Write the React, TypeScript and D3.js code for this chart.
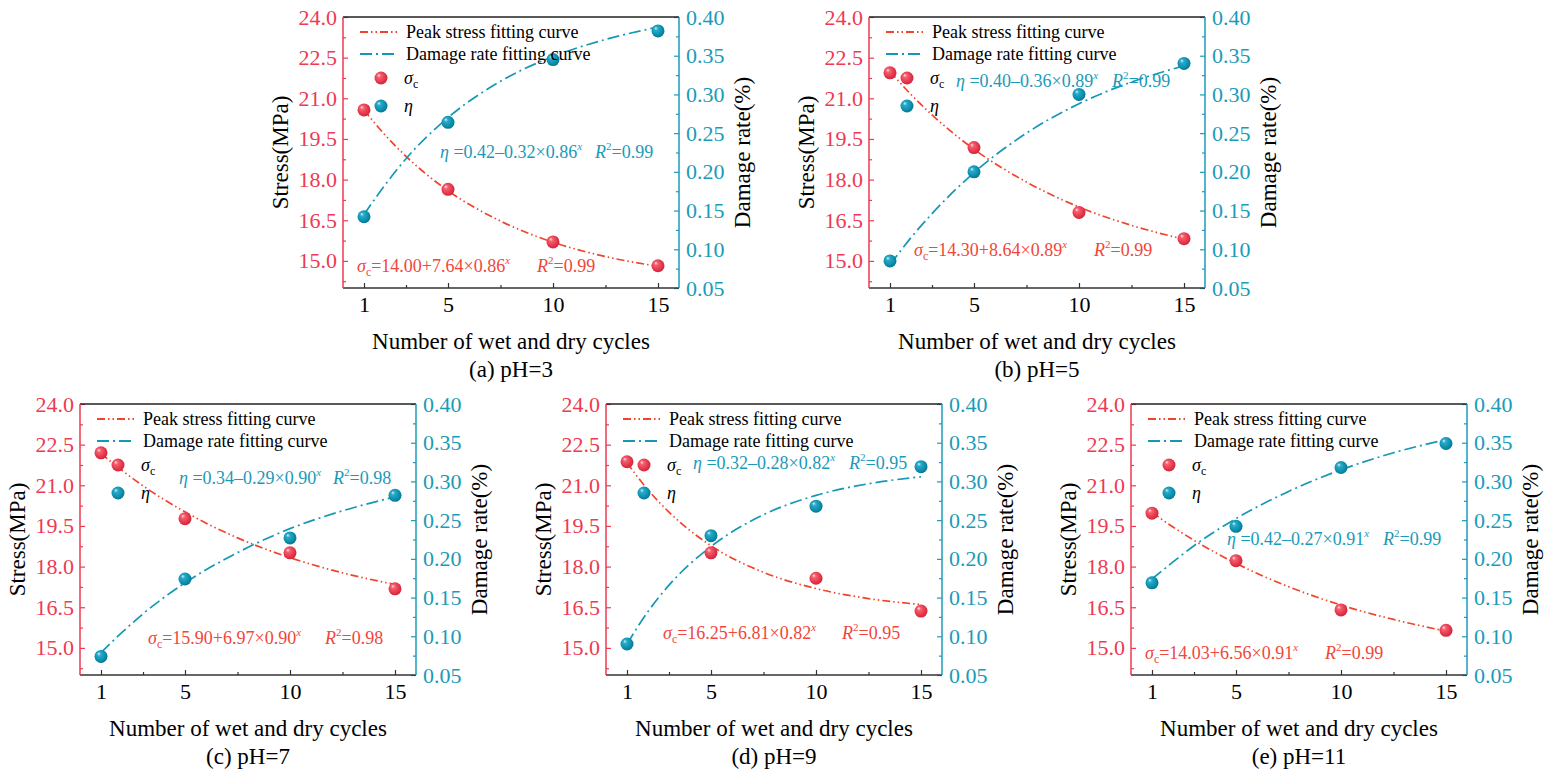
import React, { useEffect, useRef } from 'react';
import * as d3 from 'd3';

// x values of the measurements (number of wet and dry cycles)
const cycles = [1, 5, 10, 15];
const fitCycles = [1, 2, 3, 5, 7.5, 10, 12.5, 15];

const panelLabels = ['(a) pH=3', '(b) pH=5', '(c) pH=7', '(d) pH=9', '(e) pH=11'];

// peak stress (MPa)
const stressPH3 = [20.57, 17.64, 15.7, 14.82];
const stressPH5 = [21.94, 19.18, 16.79, 15.82];
const stressPH7 = [22.2, 19.77, 18.51, 17.18];
const stressPH9 = [21.87, 18.51, 17.57, 16.36];
const stressPH11 = [19.97, 18.22, 16.4, 15.65];

// damage rate (%)
const damagePH3 = [0.142, 0.264, 0.345, 0.382];
const damagePH5 = [0.085, 0.2, 0.3, 0.34];
const damagePH7 = [0.074, 0.174, 0.227, 0.282];
const damagePH9 = [0.09, 0.23, 0.268, 0.319];
const damagePH11 = [0.169, 0.242, 0.318, 0.349];

// fitting curves, read at fitCycles
const stressFitPH3 = [20.57, 19.65, 18.86, 17.59, 16.47, 15.69, 15.16, 14.8];
const stressFitPH5 = [21.99, 21.14, 20.39, 19.12, 17.91, 16.99, 16.31, 15.8];
const stressFitPH7 = [22.17, 21.55, 20.98, 20.02, 19.06, 18.33, 17.77, 17.34];
const stressFitPH9 = [21.83, 20.83, 20.01, 18.77, 17.79, 17.19, 16.82, 16.6];
const stressFitPH11 = [20.0, 19.46, 18.97, 18.12, 17.26, 16.58, 16.05, 15.62];

const damageFitPH3 = [0.145, 0.183, 0.217, 0.27, 0.317, 0.349, 0.371, 0.387];
const damageFitPH5 = [0.08, 0.115, 0.146, 0.199, 0.25, 0.288, 0.316, 0.337];
const damageFitPH7 = [0.079, 0.105, 0.129, 0.169, 0.208, 0.239, 0.262, 0.28];
const damageFitPH9 = [0.09, 0.132, 0.166, 0.216, 0.257, 0.282, 0.297, 0.306];
const damageFitPH11 = [0.174, 0.196, 0.217, 0.252, 0.287, 0.315, 0.337, 0.354];

// fitted equations shown in each panel
const sigmaEquations = ['14.00+7.64×0.86', '14.30+8.64×0.89', '15.90+6.97×0.90', '16.25+6.81×0.82', '14.03+6.56×0.91'];
const etaEquations = ['0.42–0.32×0.86', '0.40–0.36×0.89', '0.34–0.29×0.90', '0.32–0.28×0.82', '0.42–0.27×0.91'];
const sigmaR2 = ['0.99', '0.99', '0.98', '0.95', '0.99'];
const etaR2 = ['0.99', '0.99', '0.98', '0.95', '0.99'];

// axis ticks
const stressTicks = [15, 16.5, 18, 19.5, 21, 22.5, 24];
const stressMinorTicks = [14.25, 15.75, 17.25, 18.75, 20.25, 21.75, 23.25];
const damageTicks = [0.05, 0.1, 0.15, 0.2, 0.25, 0.3, 0.35, 0.4];
const damageMinorTicks = [0.075, 0.125, 0.175, 0.225, 0.275, 0.325, 0.375];
const cycleTicks = [1, 5, 10, 15];
const cycleMinorTicks = [3, 7.5, 12.5];

const stressSeries = [stressPH3, stressPH5, stressPH7, stressPH9, stressPH11];
const damageSeries = [damagePH3, damagePH5, damagePH7, damagePH9, damagePH11];
const stressFits = [stressFitPH3, stressFitPH5, stressFitPH7, stressFitPH9, stressFitPH11];
const damageFits = [damageFitPH3, damageFitPH5, damageFitPH7, damageFitPH9, damageFitPH11];

// layout
const origins: [number, number][] = [[343, 17], [869, 17], [80, 404], [606, 404], [1131, 404]];
const etaEqPos: [number, number, number][] = [[97, 141, 252], [87, 70, 243], [99, 80, 253], [87, 65, 243], [96, 141, 252]];
const sigmaEqPos: [number, number, number][] = [[14, 255, 194], [45, 239, 225], [68, 240, 245], [57, 235, 236], [14, 255, 194]];

const W = 336;
const H = 271;
const FONT = '"Liberation Serif", "DejaVu Serif", serif';
const stressColor = '#ee3a52';
const damageColor = '#1a9bb8';
const stressLine = '#f0442c';
const damageLine = '#1598b5';
const stressText = '#f0473a';
const damageText = '#1b9ab8';
const stressDash = '8 3 1.5 3 1.5 3';
const damageDash = '12 4 2 4';

type G = d3.Selection<SVGGElement, unknown, null, undefined>;

function addEquation(g: G, x: number, y: number, symbol: 'sigma' | 'eta', body: string, r2x: number, r2: string, color: string) {
  const t = g.append('text').attr('x', x).attr('y', y).attr('fill', color).attr('font-size', 18).attr('font-family', FONT);
  if (symbol === 'sigma') {
    t.append('tspan').attr('font-style', 'italic').text('σ');
    t.append('tspan').attr('font-size', 12).attr('dy', 4).text('c');
    t.append('tspan').attr('dy', -4).text('=' + body);
  } else {
    t.append('tspan').attr('font-style', 'italic').text('η');
    t.append('tspan').text(' =' + body);
  }
  t.append('tspan').attr('font-style', 'italic').attr('font-size', 11).attr('dy', -8).text('x');
  const r = g.append('text').attr('x', r2x).attr('y', y).attr('fill', color).attr('font-size', 18).attr('font-family', FONT);
  r.append('tspan').attr('font-style', 'italic').text('R');
  r.append('tspan').attr('font-size', 11).attr('dy', -8).text('2');
  r.append('tspan').attr('dy', 8).text('=' + r2);
}

function drawPanel(svg: d3.Selection<SVGSVGElement, unknown, null, undefined>, i: number) {
  const [ox, oy] = origins[i];
  const g = svg.append('g').attr('transform', `translate(${ox},${oy})`).attr('font-family', FONT);

  const x = d3.scaleLinear().domain([0, 16]).range([0, W]);
  const yS = d3.scaleLinear().domain([14, 24]).range([H, 0]);
  const yD = d3.scaleLinear().domain([0.05, 0.4]).range([H, 0]);

  const styleAxis = (a: G, color: string, textColor: string) => {
    a.attr('font-family', FONT).attr('font-size', 22);
    a.select('.domain').remove();
    a.selectAll('line').attr('stroke', color).attr('stroke-width', 1.2);
    a.selectAll('text').attr('fill', textColor).attr('font-family', FONT);
  };

  // left axis
  styleAxis(g.append('g').call(d3.axisLeft(yS).tickValues(stressMinorTicks).tickSize(-3).tickSizeOuter(0).tickFormat(() => '')), stressColor, stressColor);
  styleAxis(g.append('g').call(d3.axisLeft(yS).tickValues(stressTicks).tickSize(-5).tickSizeOuter(0).tickPadding(6).tickFormat(d3.format('.1f'))), stressColor, stressColor);

  // right axis
  styleAxis(g.append('g').attr('transform', `translate(${W},0)`).call(d3.axisRight(yD).tickValues(damageMinorTicks).tickSize(-3).tickSizeOuter(0).tickFormat(() => '')), damageColor, damageColor);
  styleAxis(g.append('g').attr('transform', `translate(${W},0)`).call(d3.axisRight(yD).tickValues(damageTicks).tickSize(-5).tickSizeOuter(0).tickPadding(7).tickFormat(d3.format('.2f'))), damageColor, damageColor);

  // bottom axis
  styleAxis(g.append('g').attr('transform', `translate(0,${H})`).call(d3.axisBottom(x).tickValues(cycleMinorTicks).tickSize(-3).tickSizeOuter(0).tickFormat(() => '')), '#333', '#000');
  styleAxis(g.append('g').attr('transform', `translate(0,${H})`).call(d3.axisBottom(x).tickValues(cycleTicks).tickSize(-5).tickSizeOuter(0).tickPadding(8).tickFormat(d3.format('d'))), '#333', '#000');

  // frame
  g.append('line').attr('x1', 0).attr('x2', W).attr('y1', 0).attr('y2', 0).attr('stroke', '#222').attr('stroke-width', 1.5);
  g.append('line').attr('x1', 0).attr('x2', W).attr('y1', H).attr('y2', H).attr('stroke', '#333').attr('stroke-width', 1.5);
  g.append('line').attr('x1', 0).attr('x2', 0).attr('y1', 0).attr('y2', H).attr('stroke', stressColor).attr('stroke-width', 1.5);
  g.append('line').attr('x1', W).attr('x2', W).attr('y1', 0).attr('y2', H).attr('stroke', damageColor).attr('stroke-width', 1.5);

  // axis titles
  g.append('text').attr('transform', `translate(-55,${H / 2}) rotate(-90)`).attr('text-anchor', 'middle').attr('font-size', 23).text('Stress(MPa)');
  g.append('text').attr('transform', `translate(${W + 71},${H / 2}) rotate(-90)`).attr('text-anchor', 'middle').attr('font-size', 23).text('Damage rate(%)');
  g.append('text').attr('x', W / 2).attr('y', H + 61).attr('text-anchor', 'middle').attr('font-size', 23).text('Number of wet and dry cycles');
  g.append('text').attr('x', W / 2).attr('y', H + 89).attr('text-anchor', 'middle').attr('font-size', 23).text(panelLabels[i]);

  // fitting curves
  const stressPath = d3.line<number>().x((_, k) => x(fitCycles[k])).y(d => yS(d)).curve(d3.curveMonotoneX);
  const damagePath = d3.line<number>().x((_, k) => x(fitCycles[k])).y(d => yD(d)).curve(d3.curveMonotoneX);
  g.append('path').attr('d', stressPath(stressFits[i])).attr('fill', 'none').attr('stroke', stressLine).attr('stroke-width', 1.7).attr('stroke-dasharray', stressDash);
  g.append('path').attr('d', damagePath(damageFits[i])).attr('fill', 'none').attr('stroke', damageLine).attr('stroke-width', 1.7).attr('stroke-dasharray', damageDash);

  // measured points
  g.selectAll('.pt-s').data(stressSeries[i]).enter().append('circle')
    .attr('cx', (_, k) => x(cycles[k])).attr('cy', d => yS(d)).attr('r', 6.5).attr('fill', 'url(#ballRed)');
  g.selectAll('.pt-d').data(damageSeries[i]).enter().append('circle')
    .attr('cx', (_, k) => x(cycles[k])).attr('cy', d => yD(d)).attr('r', 6.5).attr('fill', 'url(#ballTeal)');

  // legend
  const lg = g.append('g').attr('font-size', 18).attr('font-family', FONT);
  lg.append('line').attr('x1', 17).attr('x2', 54).attr('y1', 15).attr('y2', 15).attr('stroke', stressLine).attr('stroke-width', 1.8).attr('stroke-dasharray', stressDash);
  lg.append('text').attr('x', 63).attr('y', 15).attr('dy', '0.35em').text('Peak stress fitting curve');
  lg.append('line').attr('x1', 17).attr('x2', 54).attr('y1', 37).attr('y2', 37).attr('stroke', damageLine).attr('stroke-width', 1.8).attr('stroke-dasharray', damageDash);
  lg.append('text').attr('x', 63).attr('y', 37).attr('dy', '0.35em').text('Damage rate fitting curve');
  lg.append('circle').attr('cx', 38).attr('cy', 61).attr('r', 6.5).attr('fill', 'url(#ballRed)');
  const sl = lg.append('text').attr('x', 61).attr('y', 61).attr('dy', '0.35em');
  sl.append('tspan').attr('font-style', 'italic').text('σ');
  sl.append('tspan').attr('font-size', 12).attr('dy', 4).text('c');
  lg.append('circle').attr('cx', 38).attr('cy', 89).attr('r', 6.5).attr('fill', 'url(#ballTeal)');
  lg.append('text').attr('x', 61).attr('y', 89).attr('dy', '0.35em').attr('font-style', 'italic').text('η');

  // equations
  const [ex, ey, erx] = etaEqPos[i];
  addEquation(g, ex, ey, 'eta', etaEquations[i], erx, etaR2[i], damageText);
  const [sx, sy, srx] = sigmaEqPos[i];
  addEquation(g, sx, sy, 'sigma', sigmaEquations[i], srx, sigmaR2[i], stressText);
}

export default function App() {
  const svgRef = useRef<SVGSVGElement>(null);

  useEffect(() => {
    const el = svgRef.current;
    if (!el) return;
    const svg = d3.select(el);
    svg.selectAll('*').remove();

    const defs = svg.append('defs');
    const ball = (id: string, stops: [number, string][]) => {
      const grad = defs.append('radialGradient').attr('id', id)
        .attr('cx', '0.45').attr('cy', '0.45').attr('r', '0.6').attr('fx', '0.32').attr('fy', '0.28');
      stops.forEach(([o, c]) => grad.append('stop').attr('offset', o).attr('stop-color', c));
    };
    ball('ballRed', [[0, '#ffe4e6'], [0.25, '#f4606f'], [0.7, '#e5354a'], [1, '#c92237']]);
    ball('ballTeal', [[0, '#d2f1f8'], [0.25, '#2aaac8'], [0.7, '#0a8fae'], [1, '#05708a']]);

    for (let i = 0; i < origins.length; i++) drawPanel(svg, i);

    return () => {
      svg.selectAll('*').remove();
    };
  }, []);

  return (
    <div style={{ position: 'absolute', left: 0, top: 0, width: 1550, height: 777, background: '#fff' }}>
      <svg ref={svgRef} width={1550} height={777} style={{ display: 'block' }} />
    </div>
  );
}
